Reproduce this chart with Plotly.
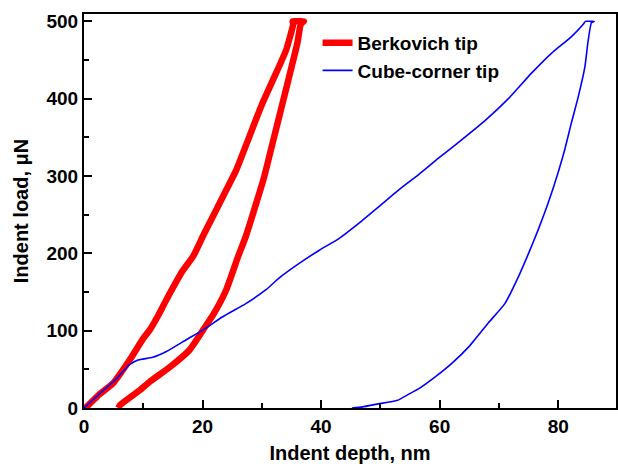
import plotly.graph_objects as go

# Berkovich tip: loading then unloading (depth nm, load uN)
berk_depth = [0, 0.45, 2.5, 4.9, 7.7, 10.0, 11.1, 12.4, 13.9, 16.7, 18.4, 20.3, 22.3, 24.0, 25.7,
              27.9, 30.1, 32.4, 34.1, 35.3, 35.2, 36.2, 37.1,
              36.6, 36.0, 34.6, 33.2, 31.8, 30.4, 28.7, 27.3, 26.0, 24.0, 21.9, 20.1,
              17.8, 14.5, 11.1, 9.4, 6.1, 5.8]
berk_load = [0, 1.7, 17, 32, 62, 90, 101, 118, 140, 178, 196, 226, 256, 282, 308,
             351, 394, 433, 463, 497, 500, 500, 500,
             497, 472, 428, 385, 342, 299, 256, 222, 196, 153, 122, 101,
             75, 53, 34, 23, 4, 0]

# Cube-corner tip: loading then unloading
cube_depth = [0, 2.7, 5.5, 7.7, 9.1, 11.6, 13.9, 17.2, 20.1, 23.4, 27.3, 30.7, 32.9, 36.3,
              39.7, 43.0, 46.4, 49.7, 53.1, 56.5, 59.8, 62.6, 67.7, 71.6, 75.5, 78.9,
              82.2, 84.3, 84.6, 85.4, 86.1,
              85.6, 85.0, 84.5, 83.4, 82.2, 81.1, 80.0, 78.3, 76.6, 75.0, 73.3, 71.0,
              68.2, 64.9, 62.1, 59.3, 56.5, 54.8, 52.9, 49.4, 47.0, 45.2]
cube_load = [0, 19, 38, 56, 62, 65.5, 73, 88, 101, 118, 135, 153, 168, 187,
             204, 219, 239, 260, 282, 302, 323, 340, 372, 400, 433, 459,
             480, 497, 500, 500, 500,
             498, 472, 441, 403, 368, 334, 305, 265, 230, 200, 170, 135,
             110, 79, 58, 40.5, 25, 18, 10, 5, 1.5, 0]

x_ticks = [0, 20, 40, 60, 80]
y_ticks = [0, 100, 200, 300, 400, 500]

FONT = "Arial, 'Liberation Sans', sans-serif"

fig = go.Figure()
fig.add_trace(go.Scatter(x=berk_depth, y=berk_load, mode="lines", name="Berkovich tip",
                         line=dict(color="#ff0000", width=6.5, shape="spline", smoothing=0.5)))
fig.add_trace(go.Scatter(x=cube_depth, y=cube_load, mode="lines", name="Cube-corner tip",
                         line=dict(color="#0000ff", width=1.6, shape="spline", smoothing=0.5)))

axis_common = dict(
    showline=True, linecolor="black", linewidth=2, mirror=True,
    ticks="inside", ticklen=8, tickwidth=2, tickcolor="black",
    showgrid=False, zeroline=False,
    tickfont=dict(family=FONT, size=19, color="black", weight="bold"),
)

fig.update_xaxes(range=[0, 89.75], tickvals=x_ticks,
                 minor=dict(dtick=10, ticks="inside", ticklen=5, tickwidth=2, tickcolor="black"),
                 title=dict(text="<b>Indent depth, nm</b>", font=dict(family=FONT, size=20, color="black"),
                            standoff=10),
                 **axis_common)
fig.update_yaxes(range=[0, 509.5], tickvals=y_ticks,
                 minor=dict(dtick=50, ticks="inside", ticklen=5, tickwidth=2, tickcolor="black"),
                 title=dict(text="<b>Indent load, μN</b>", font=dict(family=FONT, size=20, color="black"),
                            standoff=12),
                 **axis_common)

fig.update_layout(
    width=618, height=466,
    margin=dict(l=84, r=0, t=14, b=58),
    plot_bgcolor="white", paper_bgcolor="white",
    font=dict(family=FONT, color="black"),
    legend=dict(x=0.439, y=0.975, xanchor="left", yanchor="top",
                bgcolor="rgba(0,0,0,0)", borderwidth=0,
                font=dict(family=FONT, size=19, color="black", weight="bold"),
                tracegroupgap=0, itemwidth=30),
    showlegend=True,
)

fig.write_html("out.html")
